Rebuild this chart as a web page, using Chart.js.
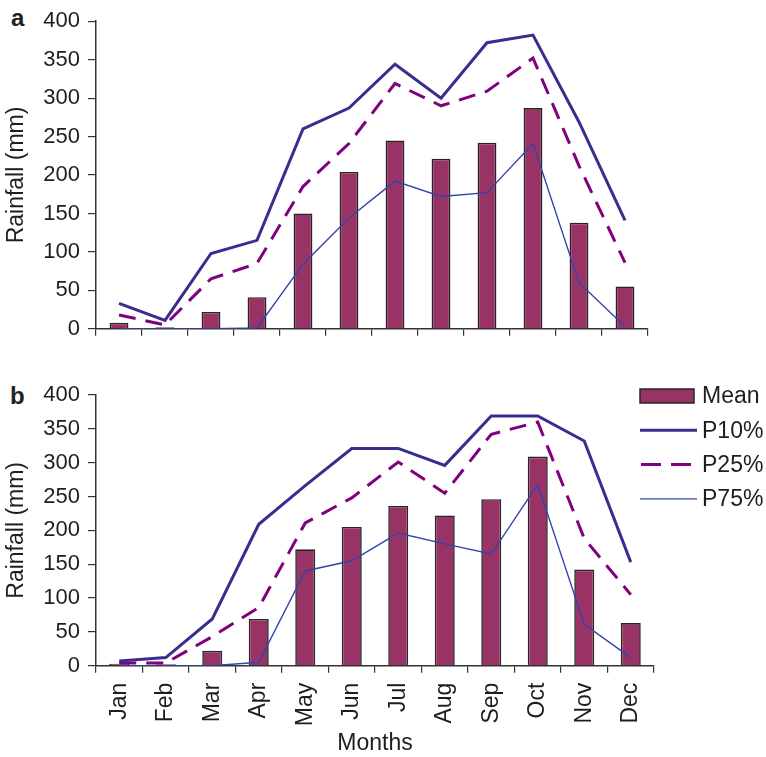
<!DOCTYPE html>
<html>
<head>
<meta charset="utf-8">
<script src="https://cdn.jsdelivr.net/npm/chart.js@4/dist/chart.umd.min.js"></script>
<style>
  html, body { margin: 0; padding: 0; background: #fff; }
  body { width: 766px; height: 757px; position: relative; overflow: hidden; }
  canvas { position: absolute; left: 0; }
  #cA { top: 0; }
  #cB { top: 355px; }
  .panel { position: absolute; font: bold 24px "Liberation Sans", Arial, sans-serif; line-height: 24px; color: #222; }
</style>
</head>
<body>
<div class="panel" style="left:11px; top:6px;">a</div>
<div class="panel" style="left:10px; top:384px;">b</div>
<canvas id="cA" width="766" height="350"></canvas>
<canvas id="cB" width="766" height="402"></canvas>
<script>
// ---- data ----
const months = ['Jan','Feb','Mar','Apr','May','Jun','Jul','Aug','Sep','Oct','Nov','Dec'];
const seriesNames = ['Mean','P10%','P25%','P75%'];
const yTicks = [0, 50, 100, 150, 200, 250, 300, 350, 400];

// Panel a
const meanA = [8, 2, 22, 41, 150, 204, 245, 221, 242, 287, 138, 55];
const p10A  = [33, 11, 98, 115, 260, 287, 344, 300, 372, 382, 269, 141];
const p25A  = [18, 5, 65, 85, 185, 241, 319, 290, 309, 352, 212, 86];
const p75A  = [0, 0, 0, 1, 84, 144, 192, 172, 177, 241, 60, 3];

// Panel b
const meanB = [3, 2, 22, 69, 172, 205, 236, 222, 246, 309, 142, 63];
const p10B  = [7, 12, 69, 209, 266, 321, 321, 296, 369, 369, 332, 153];
const p25B  = [4, 4, 43, 86, 211, 248, 301, 255, 342, 360, 188, 105];
const p75B  = [0, 0, 0, 5, 140, 155, 196, 180, 165, 268, 61, 12];

// ---- styles ----
const FONT = '"Liberation Sans", Arial, Helvetica, sans-serif';
const TXT = '#1e1e1e';
const AX = '#333';
const barFill = '#993366';
const barEdge = '#262626';
const c10 = '#3a2d8f';
const c25 = '#800080';
const c75 = '#3344aa';
const dash25 = [17, 10];

Chart.defaults.font.family = FONT;
Chart.defaults.color = TXT;

function makeDatasets(mean, p10, p25, p75, barPct) {
  return [
    { type: 'bar', label: seriesNames[0], data: mean, backgroundColor: barFill,
      borderColor: barEdge, borderWidth: 1.6, barPercentage: barPct, categoryPercentage: 1, order: 9 },
    { type: 'line', label: seriesNames[1], data: p10, borderColor: c10, borderWidth: 3,
      pointRadius: 0, tension: 0, fill: false, order: 3 },
    { type: 'line', label: seriesNames[2], data: p25, borderColor: c25, borderWidth: 3,
      borderDash: dash25, pointRadius: 0, tension: 0, fill: false, order: 2 },
    { type: 'line', label: seriesNames[3], data: p75, borderColor: c75, borderWidth: 1.4,
      pointRadius: 0, tension: 0, fill: false, order: 1 }
  ];
}

const legendPlugin = {
  id: 'panelLegend',
  afterDraw(chart, args, opts) {
    if (!opts || !opts.show) return;
    const ctx = chart.ctx;
    ctx.save();
    ctx.font = '23px ' + FONT;
    ctx.textBaseline = 'middle';
    ctx.textAlign = 'left';
    chart.data.datasets.forEach((ds, i) => {
      const cy = opts.y + i * opts.step;
      if (ds.type === 'bar') {
        ctx.fillStyle = ds.backgroundColor;
        ctx.fillRect(opts.x, cy - 7, opts.w, 14);
        ctx.strokeStyle = ds.borderColor;
        ctx.lineWidth = 1.5;
        ctx.strokeRect(opts.x, cy - 7, opts.w, 14);
      } else {
        ctx.strokeStyle = ds.borderColor;
        ctx.lineWidth = ds.borderWidth;
        ctx.setLineDash(ds.borderDash ? [20, 10] : []);
        ctx.beginPath();
        ctx.moveTo(opts.x + (ds.borderDash ? 1 : 0), cy);
        ctx.lineTo(opts.x + opts.w + 3, cy);
        ctx.stroke();
        ctx.setLineDash([]);
      }
      ctx.fillStyle = TXT;
      ctx.fillText(ds.label, opts.textX, cy + 1);
    });
    ctx.restore();
  }
};

function makeOptions(cfg) {
  return {
    responsive: false,
    animation: false,
    layout: { padding: { left: 0, top: cfg.padTop, right: cfg.padRight, bottom: 0 } },
    plugins: {
      legend: { display: false },
      tooltip: { enabled: false },
      panelLegend: cfg.legend
    },
    scales: {
      x: {
        type: 'category',
        offset: true,
        grid: { offset: true, drawOnChartArea: false, drawTicks: true, tickLength: 7, color: AX, lineWidth: 1.2 },
        border: { display: true, color: AX, width: 1.5 },
        ticks: { display: cfg.showX, minRotation: 90, maxRotation: 90, autoSkip: false, padding: 10,
                 font: { size: 23, family: FONT }, color: TXT },
        title: { display: cfg.showX, text: 'Months', font: { size: 23, family: FONT }, color: TXT,
                 padding: { top: 4, bottom: 0 } },
        afterFit: (s) => { s.height = cfg.xHeight; }
      },
      y: {
        min: 0, max: 400,
        afterBuildTicks: (s) => { s.ticks = yTicks.map(v => ({ value: v })); },
        grid: { drawOnChartArea: false, drawTicks: true, tickLength: 8, color: AX, lineWidth: 1.2 },
        border: { display: true, color: AX, width: 1.5 },
        ticks: { padding: 8, font: { size: 22, family: FONT }, color: TXT },
        title: { display: true, text: 'Rainfall (mm)', font: { size: 23, family: FONT }, color: TXT,
                 padding: { top: 3, bottom: 0 } },
        afterFit: (s) => { s.width = 96; }
      }
    }
  };
}

new Chart(document.getElementById('cA'), {
  type: 'bar',
  data: { labels: months, datasets: makeDatasets(meanA, p10A, p25A, p75A, 0.41) },
  options: makeOptions({ padTop: 17, padRight: 118, xHeight: 13, showX: false, legend: { show: false } }),
  plugins: [legendPlugin]
});

new Chart(document.getElementById('cB'), {
  type: 'bar',
  data: { labels: months, datasets: makeDatasets(meanB, p10B, p25B, p75B, 0.43) },
  options: makeOptions({ padTop: 40, padRight: 112, xHeight: 91.3, showX: true,
    legend: { show: true, x: 640, w: 54, y: 41, step: 34.3, textX: 702 } }),
  plugins: [legendPlugin]
});
</script>
</body>
</html>
